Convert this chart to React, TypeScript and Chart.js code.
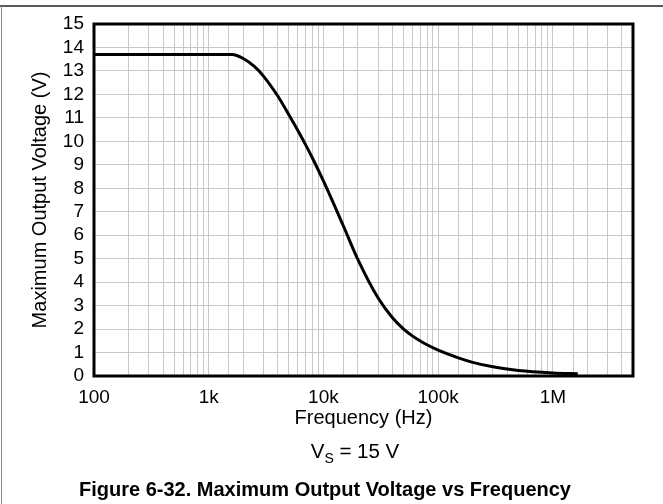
import React, { useEffect, useRef } from "react";
import { Chart, registerables } from "chart.js";

Chart.register(...registerables);

const frequencyHz: number[] = [100, 1000, 1600, 2000, 2500, 3000, 4000, 5000, 6000, 7000, 8000, 10000, 15000, 20000, 30000, 40000, 50000, 60000, 70000, 80000, 100000, 150000, 200000, 300000, 500000, 1000000, 1650000];
const maxOutputV: number[] = [13.7, 13.7, 13.7, 13.53, 13.19, 12.78, 11.93, 11.13, 10.45, 9.85, 9.3, 8.31, 6.37, 4.96, 3.32, 2.48, 2.0, 1.7, 1.49, 1.33, 1.1, 0.77, 0.58, 0.39, 0.23, 0.13, 0.1];
const xDecadeLabels: Record<string, string> = { "100": "100", "1000": "1k", "10000": "10k", "100000": "100k", "1000000": "1M" };
const yRange: number[] = [0, 15];

const FONT = "'Liberation Sans', Arial, Helvetica, sans-serif";

const decorPlugin = {
  id: "decor",
  afterDraw(chart: any) {
    const { ctx, chartArea } = chart;
    const { left, top, right, bottom } = chartArea;
    ctx.save();
    // plot border
    ctx.strokeStyle = "#000";
    ctx.lineWidth = 3;
    ctx.strokeRect(left, top, right - left, bottom - top);
    // outer frame lines
    ctx.lineWidth = 1.5;
    ctx.strokeStyle = "#222";
    ctx.beginPath();
    ctx.moveTo(0, 6);
    ctx.lineTo(663, 6);
    ctx.stroke();
    ctx.lineWidth = 1;
    ctx.strokeStyle = "#888";
    ctx.beginPath();
    ctx.moveTo(1.5, 6);
    ctx.lineTo(1.5, 504);
    ctx.stroke();

    ctx.fillStyle = "#000";
    // y title
    ctx.save();
    ctx.translate(40, (top + bottom) / 2);
    ctx.rotate(-Math.PI / 2);
    ctx.font = `20px ${FONT}`;
    ctx.textAlign = "center";
    ctx.textBaseline = "middle";
    ctx.fillText("Maximum Output Voltage (V)", 0, 0);
    ctx.restore();

    // x title
    ctx.font = `20px ${FONT}`;
    ctx.textAlign = "center";
    ctx.textBaseline = "alphabetic";
    ctx.fillText("Frequency (Hz)", (left + right) / 2, 424);

    // V_S = 15 V
    const big = `20.5px ${FONT}`;
    const small = `14px ${FONT}`;
    ctx.font = big;
    const wV = ctx.measureText("V").width;
    const wRest = ctx.measureText(" = 15 V").width;
    ctx.font = small;
    const wS = ctx.measureText("S").width;
    const total = wV + wS + wRest;
    let x = 355 - total / 2;
    ctx.textAlign = "left";
    ctx.font = big;
    ctx.fillText("V", x, 458);
    x += wV;
    ctx.font = small;
    ctx.fillText("S", x, 463);
    x += wS;
    ctx.font = big;
    ctx.fillText(" = 15 V", x, 458);

    // caption
    ctx.font = `bold 20px ${FONT}`;
    ctx.textAlign = "center";
    ctx.fillText("Figure 6-32. Maximum Output Voltage vs Frequency", 325, 496);
    ctx.restore();
  },
};

export default function App() {
  const canvasRef = useRef<HTMLCanvasElement | null>(null);

  useEffect(() => {
    const canvas = canvasRef.current;
    if (!canvas) return;
    const chart = new Chart(canvas, {
      type: "line",
      data: {
        datasets: [
          {
            data: frequencyHz.map((f, i) => ({ x: f, y: maxOutputV[i] })),
            borderColor: "#000",
            borderWidth: 3,
            pointRadius: 0,
            fill: false,
            cubicInterpolationMode: "monotone",
          },
        ],
      },
      options: {
        responsive: false,
        animation: false,
        devicePixelRatio: 1,
        layout: { padding: { top: 24, right: 30, left: 0, bottom: 0 } },
        plugins: { legend: { display: false }, tooltip: { enabled: false }, title: { display: false } },
        scales: {
          x: {
            type: "logarithmic",
            position: "bottom",
            min: 100,
            max: 5000000,
            border: { display: false },
            grid: { color: "#c8c8c8", lineWidth: 1, drawTicks: false },
            ticks: {
              autoSkip: false,
              maxRotation: 0,
              minRotation: 0,
              padding: 10,
              color: "#000",
              font: { family: FONT, size: 19 },
              callback: (value: any) => {
                const v = Number(value);
                const l = Math.log10(v);
                if (Math.abs(l - Math.round(l)) < 1e-9) {
                  return xDecadeLabels[String(Math.round(v))] ?? "";
                }
                return "";
              },
            },
            afterFit: (s: any) => {
              s.height = 128;
            },
          },
          y: {
            type: "linear",
            min: yRange[0],
            max: yRange[1],
            border: { display: false },
            grid: { color: "#c8c8c8", lineWidth: 1, drawTicks: false },
            ticks: {
              stepSize: 1,
              autoSkip: false,
              padding: 10,
              color: "#000",
              font: { family: FONT, size: 19 },
            },
            afterFit: (s: any) => {
              s.width = 94;
            },
          },
        },
      },
      plugins: [decorPlugin],
    } as any);
    return () => chart.destroy();
  }, []);

  return (
    <div style={{ position: "absolute", left: 0, top: 0, width: 663, height: 504, background: "#fff" }}>
      <canvas ref={canvasRef} width={663} height={504} style={{ display: "block", width: 663, height: 504 }} />
    </div>
  );
}
